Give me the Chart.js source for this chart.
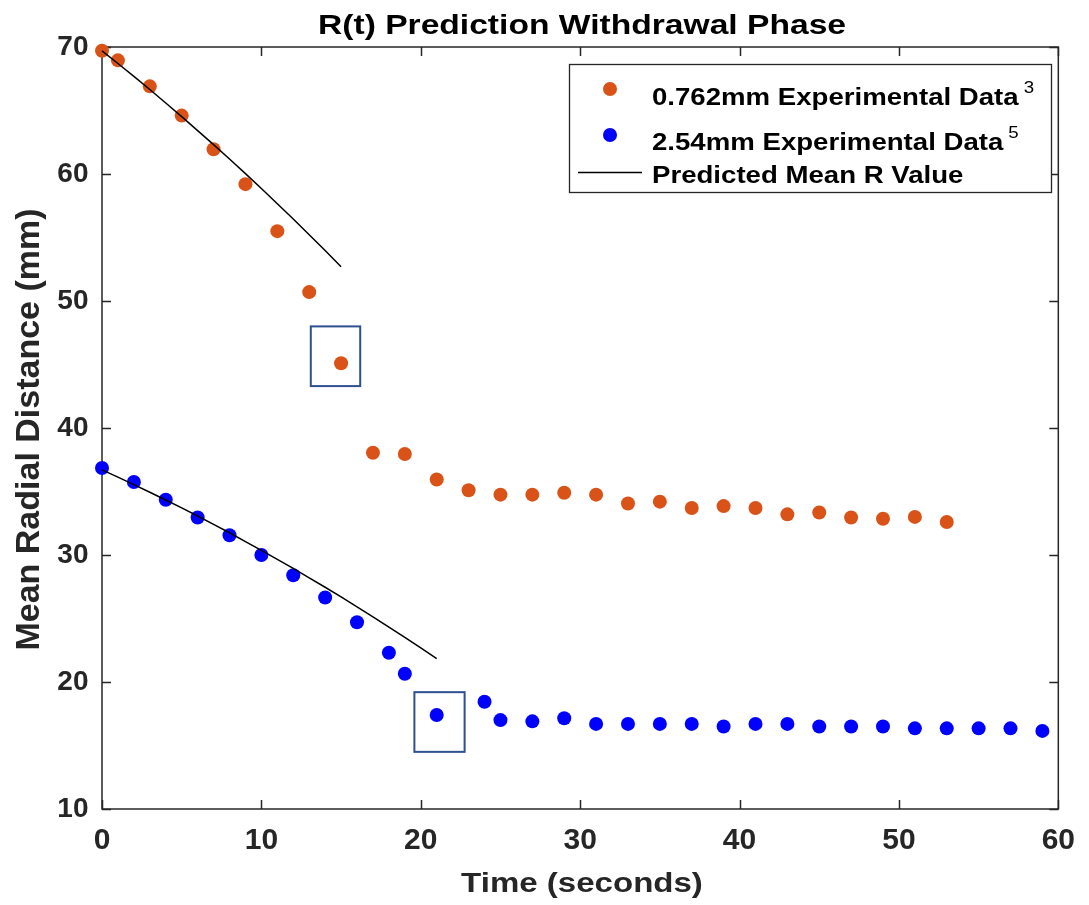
<!DOCTYPE html>
<html>
<head>
<meta charset="utf-8">
<script src="https://cdn.jsdelivr.net/npm/chart.js@4.4.1/dist/chart.umd.min.js"></script>
<style>
html,body{margin:0;padding:0;background:#fff;}
canvas{display:block;}
</style>
</head>
<body>
<canvas id="c" width="1089" height="905"></canvas>
<script>
// ---------- text ----------
const chartTitle = 'R(t) Prediction Withdrawal Phase';
const xAxisTitle = 'Time (seconds)';
const yAxisTitle = 'Mean Radial Distance (mm)';
const seriesNames = ['0.762mm Experimental Data', '2.54mm Experimental Data', 'Predicted Mean R Value'];
const seriesSuperscripts = ['3', '5', ''];

// ---------- axis ticks ----------
const xTickValues = [0, 10, 20, 30, 40, 50, 60];
const yTickValues = [10, 20, 30, 40, 50, 60, 70];

// ---------- 0.762mm experimental data ----------
const orangeTime   = [0, 1, 3, 5, 7, 9, 11, 13, 15, 17, 19, 21, 23, 25, 27, 29, 31, 33, 35, 37, 39, 41, 43, 45, 47, 49, 51, 53];
const orangeRadius = [69.7, 68.95, 66.9, 64.6, 61.95, 59.2, 55.5, 50.7, 45.1, 38.05, 37.95, 35.95, 35.1, 34.75, 34.75, 34.9, 34.75, 34.05, 34.2, 33.7, 33.85, 33.7, 33.2, 33.35, 32.95, 32.85, 33.0, 32.6];

// ---------- 2.54mm experimental data ----------
const blueTime   = [0, 2, 4, 6, 8, 10, 12, 14, 16, 18, 19, 21, 24, 25, 27, 29, 31, 33, 35, 37, 39, 41, 43, 45, 47, 49, 51, 53, 55, 57, 59];
const blueRadius = [36.85, 35.75, 34.35, 32.95, 31.55, 30.0, 28.4, 26.65, 24.7, 22.3, 20.65, 17.4, 18.45, 17.0, 16.9, 17.15, 16.7, 16.7, 16.7, 16.7, 16.5, 16.7, 16.7, 16.5, 16.5, 16.5, 16.35, 16.35, 16.35, 16.35, 16.15];

// ---------- predicted mean R (0.762mm) ----------
const predTimeA   = [0, 1, 2, 3, 4, 5, 6, 7, 8, 9, 10, 11, 12, 13, 14, 15];
const predRadiusA = [69.7, 68.7, 67.69, 66.65, 65.59, 64.52, 63.42, 62.31, 61.18, 60.03, 58.86, 57.66, 56.45, 55.22, 53.97, 52.7];

// ---------- predicted mean R (2.54mm) ----------
const predTimeB   = [0, 1, 2, 3, 4, 5, 6, 7, 8, 9, 10, 11, 12, 13, 14, 15, 16, 17, 18, 19, 20, 21];
const predRadiusB = [36.7, 36.13, 35.54, 34.94, 34.33, 33.71, 33.07, 32.41, 31.75, 31.06, 30.37, 29.66, 28.94, 28.2, 27.46, 26.7, 25.92, 25.13, 24.33, 23.51, 22.68, 21.84];

// ---------- highlighted points (data ranges) ----------
const highlightX = [[13.1, 16.2], [19.6, 22.75]];
const highlightY = [[43.3, 48.0], [14.5, 19.2]];

// ---------- styling ----------
const FONT = '"Liberation Sans", Arial, Helvetica, sans-serif';
const ORANGE = '#D95319';
const BLUE = '#0000FF';
const AXIS = '#262626';
const WIDE = 1.2;

const toXY = (xs, ys) => xs.map((x, i) => ({x: x, y: ys[i]}));

function wideText(ctx, text, x, y, sx) {
  ctx.save();
  ctx.translate(x, y);
  ctx.scale(sx, 1);
  ctx.fillText(text, 0, 0);
  ctx.restore();
  return ctx.measureText(text).width * sx;
}

const framePlugin = {
  id: 'frame',
  beforeDatasetsDraw(chart) {
    const {ctx, chartArea: a, scales: {x, y}} = chart;
    ctx.save();
    ctx.strokeStyle = AXIS;
    ctx.lineWidth = 1.5;
    ctx.strokeRect(a.left, a.top, a.right - a.left, a.bottom - a.top);
    const tl = 9;
    ctx.beginPath();
    xTickValues.forEach(v => {
      const p = Math.round(x.getPixelForValue(v)) + 0.5;
      ctx.moveTo(p, a.bottom); ctx.lineTo(p, a.bottom - tl);
      ctx.moveTo(p, a.top); ctx.lineTo(p, a.top + tl);
    });
    yTickValues.forEach(v => {
      const p = Math.round(y.getPixelForValue(v)) + 0.5;
      ctx.moveTo(a.left, p); ctx.lineTo(a.left + tl, p);
      ctx.moveTo(a.right, p); ctx.lineTo(a.right - tl, p);
    });
    ctx.stroke();
    ctx.restore();
  },
  afterDatasetsDraw(chart) {
    const {ctx, scales: {x, y}} = chart;
    ctx.save();
    ctx.strokeStyle = '#2E5090';
    ctx.lineWidth = 2;
    highlightX.forEach((hx, i) => {
      const hy = highlightY[i];
      const x0 = x.getPixelForValue(hx[0]), x1 = x.getPixelForValue(hx[1]);
      const y0 = y.getPixelForValue(hy[1]), y1 = y.getPixelForValue(hy[0]);
      ctx.strokeRect(x0, y0, x1 - x0, y1 - y0);
    });
    ctx.restore();
  },
  afterDraw(chart) {
    const {ctx} = chart;
    ctx.save();
    // title
    ctx.fillStyle = '#000';
    ctx.font = 'bold 28px ' + FONT;
    ctx.textAlign = 'center';
    ctx.textBaseline = 'alphabetic';
    wideText(ctx, chartTitle, 582, 33.5, WIDE);
    // x title
    ctx.fillStyle = AXIS;
    wideText(ctx, xAxisTitle, 582, 892, 1.18);
    // y title
    ctx.font = 'bold 34px ' + FONT;
    ctx.translate(38.5, 429.5);
    ctx.rotate(-Math.PI / 2);
    ctx.fillText(yAxisTitle, 0, 0);
    ctx.restore();

    // legend
    ctx.save();
    const lx0 = 569.5, ly0 = 64.5, lx1 = 1051.5, ly1 = 192.5;
    ctx.fillStyle = '#fff';
    ctx.fillRect(lx0, ly0, lx1 - lx0, ly1 - ly0);
    ctx.strokeStyle = AXIS;
    ctx.lineWidth = 1.3;
    ctx.strokeRect(lx0, ly0, lx1 - lx0, ly1 - ly0);
    const baselines = [104.5, 149.5, 182.5];
    const markerY = [89, 135, 172.5];
    const colors = [ORANGE, BLUE, '#000'];
    const textX = 652;
    seriesNames.forEach((name, i) => {
      if (i < 2) {
        ctx.fillStyle = colors[i];
        ctx.beginPath();
        ctx.arc(610, markerY[i], 7, 0, Math.PI * 2);
        ctx.fill();
      } else {
        ctx.strokeStyle = '#000';
        ctx.lineWidth = 1.5;
        ctx.beginPath();
        ctx.moveTo(578, markerY[i]); ctx.lineTo(642, markerY[i]);
        ctx.stroke();
      }
      ctx.fillStyle = '#000';
      ctx.font = 'bold 23px ' + FONT;
      ctx.textAlign = 'left';
      ctx.textBaseline = 'alphabetic';
      const w = wideText(ctx, name, textX, baselines[i], WIDE);
      if (seriesSuperscripts[i]) {
        ctx.font = '17px ' + FONT;
        wideText(ctx, seriesSuperscripts[i], textX + w + 5, baselines[i] - 12, 1.1);
      }
    });
    ctx.restore();
  }
};

new Chart(document.getElementById('c'), {
  type: 'scatter',
  data: {
    datasets: [
      {label: seriesNames[2], data: toXY(predTimeA, predRadiusA), showLine: true, borderColor: '#000', borderWidth: 1.5, pointRadius: 0, order: 0, clip: false},
      {label: seriesNames[2], data: toXY(predTimeB, predRadiusB), showLine: true, borderColor: '#000', borderWidth: 1.5, pointRadius: 0, order: 0, clip: false},
      {label: seriesNames[0], data: toXY(orangeTime, orangeRadius), pointRadius: 7, pointBackgroundColor: ORANGE, pointBorderWidth: 0, borderWidth: 0, order: 1, clip: false},
      {label: seriesNames[1], data: toXY(blueTime, blueRadius), pointRadius: 7, pointBackgroundColor: BLUE, pointBorderWidth: 0, borderWidth: 0, order: 1, clip: false}
    ]
  },
  options: {
    responsive: false,
    devicePixelRatio: 1,
    animation: false,
    layout: {padding: {top: 47, right: 22, bottom: 0, left: 0}},
    plugins: {legend: {display: false}, tooltip: {enabled: false}, title: {display: false}},
    scales: {
      x: {
        type: 'linear', min: 0, max: 60,
        afterBuildTicks: s => { s.ticks = xTickValues.map(v => ({value: v})); },
        afterFit: s => { s.height = 96; },
        grid: {display: false, drawTicks: false},
        border: {display: false},
        ticks: {font: {family: FONT, size: 30, weight: 'bold'}, color: AXIS, padding: 14, maxRotation: 0, autoSkip: false}
      },
      y: {
        type: 'linear', min: 10, max: 70,
        afterBuildTicks: s => { s.ticks = yTickValues.map(v => ({value: v})); },
        afterFit: s => { s.width = 102; },
        grid: {display: false, drawTicks: false},
        border: {display: false},
        ticks: {font: {family: FONT, size: 28, weight: 'bold'}, color: AXIS, padding: 13.5, autoSkip: false}
      }
    }
  },
  plugins: [framePlugin]
});
</script>
</body>
</html>
